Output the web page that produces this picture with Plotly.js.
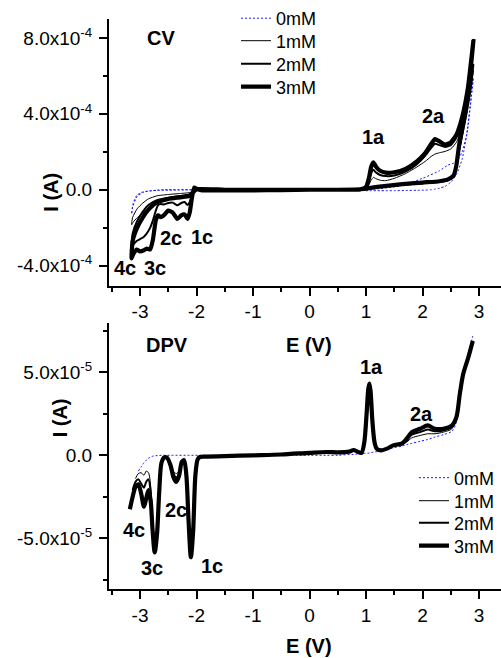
<!DOCTYPE html>
<html>
<head>
<meta charset="utf-8">
<script src="https://cdn.plot.ly/plotly-3.0.1.min.js"></script>
<style>
  html, body { margin: 0; padding: 0; background: #ffffff; }
  #chart { width: 501px; height: 658px; }
</style>
</head>
<body>
<div id="chart"></div>
<script>
// Concentrations of the added compound
const seriesNames = ['0mM', '1mM', '2mM', '3mM'];

// ---- Cyclic voltammetry (current in units of 1e-4 A) ----
const CV_UNIT = 1e-4;
// Potential path: anodic sweep out and back, then cathodic sweep out and back
const cvE = [
  0, 0.5, 0.9, 1.0, 1.05, 1.09, 1.13, 1.18, 1.25, 1.35, 1.5, 1.7, 1.9, 2.05, 2.15, 2.22, 2.3, 2.4, 2.5, 2.6, 2.7, 2.8, 2.9,
  2.86, 2.78, 2.7, 2.64, 2.6, 2.55, 2.45, 2.3, 2.0, 1.6, 1.2, 0.95, 0.5, 0,
  -0.5, -1.0, -1.5, -1.9, -2.0, -2.04, -2.08, -2.12, -2.16, -2.21, -2.27, -2.34, -2.42, -2.5, -2.58, -2.63, -2.68, -2.72, -2.77, -2.82, -2.88, -2.94, -3.0, -3.06, -3.12, -3.15,
  -3.13, -3.05, -2.95, -2.85, -2.7, -2.5, -2.3, -2.12, -2.05, -2.0, -1.5, -1.0, -0.5, 0
];
const cvI_0mM = [
  0, -0.02, -0.04, -0.05, -0.05, -0.05, -0.05, -0.05, -0.05, -0.05, -0.05, -0.04, -0.03, -0.02, 0, 0.03, 0.08, 0.18, 0.4, 0.8, 1.6, 3.2, 5.9,
  4.9, 2.9, 2.0, 1.65, 1.5, 1.4, 1.3, 1.0, 0.6, 0.2, 0.05, 0.0, 0, 0,
  0, 0, 0, 0, 0, 0, 0, 0, 0, 0, 0, 0, 0, 0, 0, -0.01, -0.02, -0.03, -0.05, -0.06, -0.08, -0.1, -0.18, -0.3, -0.7, -1.28,
  -0.9, -0.35, -0.15, -0.07, -0.03, -0.02, -0.01, 0, 0, 0, 0, 0, 0, 0
];
const cvI_1mM = [
  0, 0, 0.02, 0.06, 0.25, 0.5, 0.65, 0.58, 0.5, 0.48, 0.6, 0.85, 1.2, 1.5, 1.75, 1.88, 1.95, 2.02, 2.15, 2.5, 3.3, 4.6, 6.3,
  5.3, 3.9, 2.7, 1.8, 1.1, 0.65, 0.48, 0.4, 0.32, 0.22, 0.12, 0.03, 0, 0,
  -0.01, -0.01, -0.01, -0.01, 0.02, 0.03, -0.1, -0.2, -0.3, -0.35, -0.38, -0.4, -0.42, -0.45, -0.5, -0.55, -0.62, -0.7, -0.8, -0.92, -1.05, -1.2, -1.35, -1.5, -1.7, -1.85,
  -1.45, -1.0, -0.7, -0.48, -0.32, -0.25, -0.2, -0.15, -0.06, 0.01, 0, 0, 0, 0
];
const cvI_2mM = [
  0, 0, 0.02, 0.1, 0.4, 0.85, 1.05, 0.9, 0.78, 0.72, 0.75, 0.95, 1.35, 1.8, 2.2, 2.42, 2.35, 2.25, 2.35, 2.75, 3.6, 4.9, 6.6,
  5.6, 4.1, 2.9, 2.0, 1.2, 0.7, 0.5, 0.42, 0.35, 0.25, 0.13, 0.03, 0, 0,
  -0.02, -0.02, -0.02, -0.02, 0.04, 0.08, -0.3, -0.65, -0.8, -0.65, -0.7, -0.82, -0.68, -0.7, -0.78, -0.75, -0.8, -1.1, -1.6, -2.0, -2.3, -2.5, -2.6, -2.7, -2.9, -3.05,
  -2.3, -1.65, -1.15, -0.8, -0.55, -0.42, -0.33, -0.25, -0.08, 0.02, 0, 0, 0, 0
];
const cvI_3mM = [
  0, 0, 0.02, 0.15, 0.6, 1.2, 1.44, 1.2, 1.0, 0.9, 0.92, 1.1, 1.5, 1.95, 2.4, 2.67, 2.55, 2.38, 2.5, 2.9, 3.8, 5.3, 7.84,
  6.6, 4.7, 3.3, 2.2, 1.3, 0.75, 0.55, 0.45, 0.38, 0.28, 0.15, 0.04, 0, 0,
  -0.02, -0.03, -0.03, -0.03, 0.05, 0.12, -0.4, -1.2, -1.54, -1.3, -1.35, -1.54, -1.2, -1.1, -1.35, -1.45, -1.35, -1.6, -2.6, -3.15, -3.1, -3.2, -3.25, -3.15, -3.4, -3.62,
  -2.7, -2.0, -1.45, -1.05, -0.67, -0.49, -0.4, -0.32, -0.1, 0.03, 0, 0, 0, 0
];

// ---- Differential pulse voltammetry (current in units of 1e-5 A) ----
const DPV_UNIT = 1e-5;
const dpvE = [
  -3.18, -3.13, -3.08, -3.03, -2.98, -2.93, -2.89, -2.85, -2.81, -2.78, -2.74, -2.70, -2.66, -2.62, -2.57, -2.52, -2.46, -2.41, -2.36, -2.31,
  -2.26, -2.22, -2.18, -2.14, -2.10, -2.06, -2.02, -1.98, -1.94, -1.8, -1.5, -1.0, -0.5, 0, 0.3, 0.5, 0.7, 0.78, 0.85, 0.92,
  0.97, 1.01, 1.04, 1.06, 1.08, 1.11, 1.15, 1.19, 1.27, 1.37, 1.48, 1.63, 1.72, 1.81, 1.96, 2.09, 2.22, 2.37, 2.52, 2.6,
  2.66, 2.72, 2.81, 2.89
];
const dpvI_0mM = [
  null, null, null, -0.95, -0.7, -0.45, -0.3, -0.18, -0.1, -0.06, -0.03, -0.02, -0.01, 0, 0, 0, 0, 0, 0, 0,
  0, 0, 0, 0, 0, 0, 0, 0, 0, 0, 0, 0, 0, 0, 0, 0, 0.05, 0.05, 0.08, 0.1,
  0.12, 0.12, 0.13, 0.14, 0.15, 0.17, 0.2, 0.22, 0.28, 0.35, 0.45, 0.55, 0.65, 0.72, 0.85, 0.95, 1.1, 1.25, 1.45, 2.0,
  3.6, 4.9, 6.1, 7.2
];
const dpvI_1mM = [
  null, null, -1.4, -1.1, -1.05, -1.2, -0.95, -1.05, -1.9, -3.7, -5.45, -4.4, -2.0, -0.4, -0.1, -0.13, -0.45, -0.95, -1.1, -0.95,
  -0.35, -0.28, -1.1, -3.8, -5.8, -4.4, -1.2, -0.25, -0.1, -0.08, -0.05, 0, 0.05, 0.15, 0.2, 0.18, 0.22, 0.3, 0.22, 0.15,
  0.8, 2.4, 3.8, 4.1, 3.7, 2.1, 0.8, 0.4, 0.3, 0.4, 0.55, 0.65, 0.8, 1.05, 1.2, 1.3, 1.3, 1.4, 1.6, 2.2,
  3.7, 4.9, 5.9, 6.9
];
const dpvI_2mM = [
  null, -2.1, -1.6, -1.45, -1.7, -1.95, -1.6, -1.45, -2.3, -4.0, -5.65, -4.6, -2.1, -0.45, -0.12, -0.15, -0.55, -1.1, -1.35, -1.1,
  -0.4, -0.3, -1.2, -3.9, -5.95, -4.5, -1.2, -0.25, -0.1, -0.08, -0.05, 0, 0.05, 0.15, 0.2, 0.18, 0.22, 0.3, 0.22, 0.15,
  0.8, 2.45, 3.9, 4.2, 3.8, 2.15, 0.8, 0.4, 0.3, 0.4, 0.58, 0.68, 0.9, 1.25, 1.4, 1.55, 1.45, 1.5, 1.7, 2.25,
  3.7, 4.9, 5.9, 6.9
];
const dpvI_3mM = [
  -3.25, -2.5, -1.9, -1.75, -2.3, -3.1, -2.6, -2.1, -2.8, -4.4, -5.85, -4.8, -2.2, -0.45, -0.12, -0.15, -0.6, -1.3, -1.6, -1.25,
  -0.4, -0.3, -1.2, -4.0, -6.15, -4.6, -1.2, -0.25, -0.1, -0.08, -0.05, 0, 0.05, 0.15, 0.2, 0.18, 0.22, 0.32, 0.22, 0.15,
  0.8, 2.5, 4.0, 4.32, 3.9, 2.2, 0.8, 0.4, 0.3, 0.4, 0.6, 0.7, 1.0, 1.4, 1.6, 1.8, 1.6, 1.6, 1.8, 2.3,
  3.7, 4.9, 5.9, 6.9
];

// Tick labels
const xTickVals = [-3, -2, -1, 0, 1, 2, 3];
const xTickText = ['-3', '-2', '-1', '0', '1', '2', '3'];
const cvTickVals = [-4e-4, 0, 4e-4, 8e-4];
const cvTickText = ['-4.0x10<sup>-4</sup>', '0.0', '4.0x10<sup>-4</sup>', '8.0x10<sup>-4</sup>'];
const dpvTickVals = [-5e-5, 0, 5e-5];
const dpvTickText = ['-5.0x10<sup>-5</sup>', '0.0', '5.0x10<sup>-5</sup>'];

const FONT = 'Liberation Sans, Arial, Helvetica, sans-serif';
const W = 501, H = 658;
const px = v => v / W;
const py = v => 1 - v / H;

const lineStyles = [
  { color: '#1a1aff', width: 1, dash: '2px,2px' },
  { color: '#000000', width: 1 },
  { color: '#000000', width: 2 },
  { color: '#000000', width: 4.2 }
];

const cvSeries = [cvI_0mM, cvI_1mM, cvI_2mM, cvI_3mM];
const dpvSeries = [dpvI_0mM, dpvI_1mM, dpvI_2mM, dpvI_3mM];

// One legend box per entry so each row sits at its own height
const cvLegendIds = ['legend', 'legend2', 'legend3', 'legend4'];
const dpvLegendIds = ['legend5', 'legend6', 'legend7', 'legend8'];
const cvLegendRowsPx = [18, 41, 64, 87];
const dpvLegendRowsPx = [478, 501, 523, 546];

const traces = [];
cvSeries.forEach((vals, k) => {
  traces.push({
    x: cvE,
    y: vals.map(v => v * CV_UNIT),
    name: seriesNames[k],
    type: 'scatter', mode: 'lines',
    xaxis: 'x', yaxis: 'y', legend: cvLegendIds[k],
    line: Object.assign({ shape: 'spline', smoothing: 0.5 }, lineStyles[k]),
    hoverinfo: 'skip'
  });
});
dpvSeries.forEach((vals, k) => {
  traces.push({
    x: dpvE,
    y: vals.map(v => (v === null ? null : v * DPV_UNIT)),
    name: seriesNames[k],
    type: 'scatter', mode: 'lines',
    xaxis: 'x2', yaxis: 'y2', legend: dpvLegendIds[k],
    line: Object.assign({ shape: 'spline', smoothing: 0.8 }, lineStyles[k]),
    hoverinfo: 'skip'
  });
});

function xAxis(anchor) {
  return {
    anchor: anchor,
    domain: [px(109), 1],
    range: [-3.549, 3.389],
    tickmode: 'array', tickvals: xTickVals, ticktext: xTickText,
    ticks: 'outside', ticklen: 8, tickwidth: 2, tickcolor: '#000',
    minor: { tickmode: 'linear', tick0: 0, dtick: 0.5, ticks: 'outside', ticklen: 4, tickwidth: 2, tickcolor: '#000' },
    showline: true, linewidth: 2, linecolor: '#000',
    showgrid: false, zeroline: false,
    tickfont: { family: FONT, size: 19, color: '#000' }
  };
}
function yAxis(domainPx, range, vals, text, minorStep) {
  return {
    anchor: domainPx.anchor,
    domain: [py(domainPx.bottom), py(domainPx.top)],
    range: range,
    tickmode: 'array', tickvals: vals, ticktext: text,
    ticks: 'outside', ticklen: 8, tickwidth: 2, tickcolor: '#000',
    ticklabelstandoff: 3,
    minor: { tickmode: 'linear', tick0: 0, dtick: minorStep, ticks: 'outside', ticklen: 4, tickwidth: 2, tickcolor: '#000' },
    showline: true, linewidth: 2, linecolor: '#000',
    showgrid: false, zeroline: false,
    tickfont: { family: FONT, size: 19, color: '#000' }
  };
}

const labelFont = { family: FONT, size: 20, color: '#000' };
function label(text, x, y, xref, yref, extra) {
  return Object.assign({
    text: '<b>' + text + '</b>', x: x, y: y, xref: xref, yref: yref,
    showarrow: false, font: labelFont, xanchor: 'center', yanchor: 'middle'
  }, extra || {});
}

const annotations = [
  // CV panel
  label('CV', -2.63, 8.0e-4, 'x', 'y'),
  label('1a', 1.14, 2.79e-4, 'x', 'y'),
  label('2a', 2.19, 3.89e-4, 'x', 'y'),
  label('2c', -2.45, -2.53e-4, 'x', 'y'),
  label('1c', -1.91, -2.47e-4, 'x', 'y'),
  label('4c', -3.26, -4.1e-4, 'x', 'y'),
  label('3c', -2.74, -4.1e-4, 'x', 'y'),
  label('I (A)', px(51), py(192), 'paper', 'paper', { textangle: -90 }),
  label('E (V)', px(308.5), py(345), 'paper', 'paper'),
  // DPV panel
  label('DPV', -2.53, 6.66e-5, 'x2', 'y2'),
  label('1a', 1.10, 5.33e-5, 'x2', 'y2'),
  label('2a', 1.98, 2.5e-5, 'x2', 'y2'),
  label('2c', -2.36, -3.31e-5, 'x2', 'y2'),
  label('4c', -3.10, -4.49e-5, 'x2', 'y2'),
  label('3c', -2.79, -6.78e-5, 'x2', 'y2'),
  label('1c', -1.73, -6.66e-5, 'x2', 'y2'),
  label('I (A)', px(60), py(418), 'paper', 'paper', { textangle: -90 }),
  label('E (V)', px(308.5), py(646), 'paper', 'paper')
];

function legendBox(xPx, rowPx) {
  return {
    x: px(xPx), y: py(rowPx),
    xanchor: 'left', yanchor: 'middle',
    bgcolor: 'rgba(0,0,0,0)', borderwidth: 0,
    font: { family: FONT, size: 18, color: '#000' },
    itemclick: false, itemdoubleclick: false
  };
}

const layout = {
  width: W, height: H,
  margin: { l: 0, r: 0, t: 0, b: 0, pad: 0 },
  paper_bgcolor: '#ffffff', plot_bgcolor: '#ffffff',
  showlegend: true,
  font: { family: FONT, color: '#000' },
  xaxis: xAxis('y'),
  yaxis: yAxis({ anchor: 'x', top: 18, bottom: 285 }, [-5.05e-4, 9.0e-4], cvTickVals, cvTickText, 2e-4),
  xaxis2: xAxis('y2'),
  yaxis2: yAxis({ anchor: 'x2', top: 322, bottom: 589 }, [-8.07e-5, 8.01e-5], dpvTickVals, dpvTickText, 2.5e-5),
  annotations: annotations
};
cvLegendIds.forEach((id, k) => { layout[id] = legendBox(236, cvLegendRowsPx[k]); });
dpvLegendIds.forEach((id, k) => { layout[id] = legendBox(414, dpvLegendRowsPx[k]); });

Plotly.newPlot('chart', traces, layout, { displayModeBar: false, staticPlot: true });
</script>
</body>
</html>
